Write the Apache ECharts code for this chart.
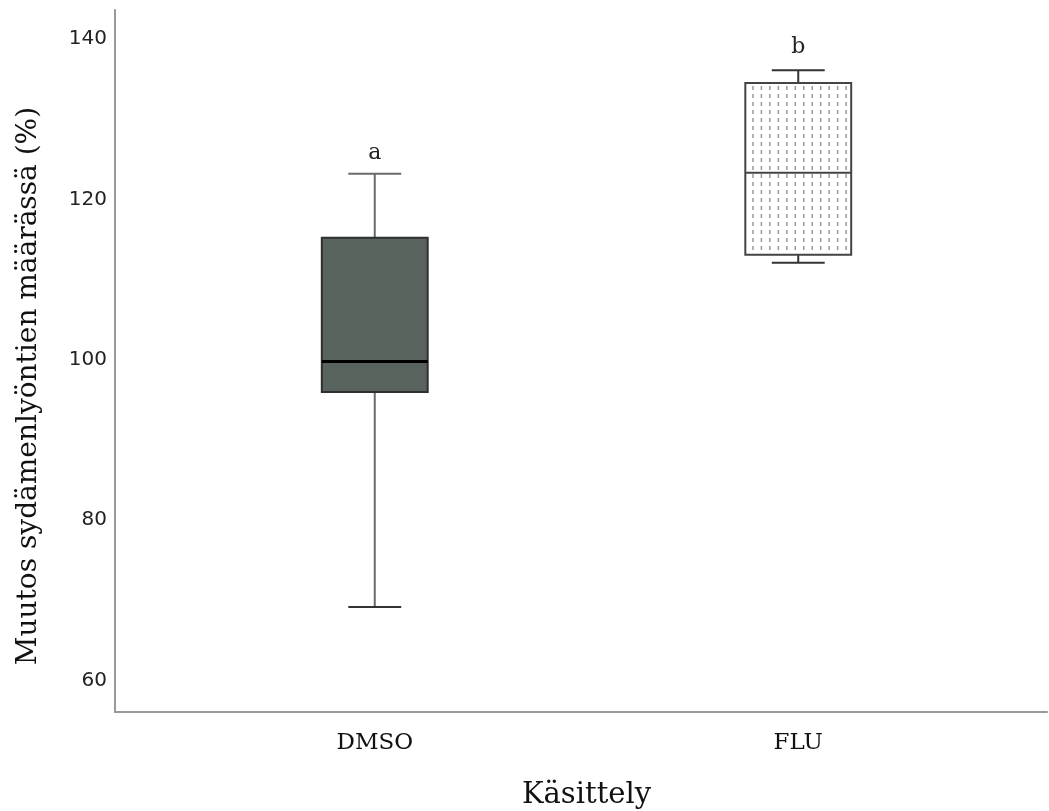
<!DOCTYPE html>
<html>
<head>
<meta charset="utf-8">
<script src="https://cdn.jsdelivr.net/npm/echarts@6/dist/echarts.min.js"></script>
<style>html,body{margin:0;padding:0;background:#fff;}#c{width:1049px;height:811px;}</style>
</head>
<body>
<div id="c"></div>
<script>
// ---- data ----
const categories = ['DMSO', 'FLU'];
const whiskerMin = [69.2, 112.1];
const q1Vals = [96.0, 113.1];
const medianVals = [99.8, 123.3];
const q3Vals = [115.2, 134.5];
const whiskerMax = [123.2, 136.1];
const letterVals = [125.8, 139.0];
const letterTexts = ['a', 'b'];
const yTitle = 'Muutos sydämenlyöntien määrässä (%)';
const xTitle = 'Käsittely';

// ---- styles (per category) ----
const boxStyles = [
  { fill: '#59635e', stroke: '#2f2f2f', boxLW: 2, median: '#000000', medianLW: 3, whisker: '#6a6a6a', dots: false },
  { fill: '#ffffff', stroke: '#444444', boxLW: 2, median: '#444444', medianLW: 2, whisker: '#333333', dots: true }
];

const chart = echarts.init(document.getElementById('c'), null, { renderer: 'canvas' });

function renderItem(params, api) {
  const i = api.value(0);
  const st = boxStyles[i];
  const bandW = api.size([1, 0])[0];
  const boxW = bandW * 0.25;
  const capW = boxW * 0.5;
  const xc = api.coord([i, api.value(3)])[0];
  const yMin = api.coord([i, api.value(1)])[1];
  const yQ1 = api.coord([i, api.value(2)])[1];
  const yMed = api.coord([i, api.value(3)])[1];
  const yQ3 = api.coord([i, api.value(4)])[1];
  const yMax = api.coord([i, api.value(5)])[1];
  const yLet = api.coord([i, api.value(6)])[1];
  const children = [];
  const wl = { stroke: st.whisker, lineWidth: 2 };
  children.push({ type: 'line', shape: { x1: xc, y1: yMax, x2: xc, y2: yQ3 }, style: wl });
  children.push({ type: 'line', shape: { x1: xc, y1: yQ1, x2: xc, y2: yMin }, style: wl });
  children.push({ type: 'line', shape: { x1: xc - capW / 2, y1: yMax, x2: xc + capW / 2, y2: yMax }, style: wl });
  children.push({ type: 'line', shape: { x1: xc - capW / 2, y1: yMin, x2: xc + capW / 2, y2: yMin }, style: { stroke: '#333', lineWidth: 2 } });
  children.push({ type: 'rect', shape: { x: xc - boxW / 2, y: yQ3, width: boxW, height: yQ1 - yQ3 }, style: { fill: st.fill, stroke: 'none' } });
  if (st.dots) {
    const step = boxW / 12.5;
    for (let x = xc - boxW / 2 + step * 0.9; x < xc + boxW / 2 - 2; x += step) {
      children.push({ type: 'line', shape: { x1: x, y1: yQ3 + 3, x2: x, y2: yQ1 - 1 }, style: { stroke: '#999999', lineWidth: 1.5, lineDash: [4, 4] } });
    }
  }
  children.push({ type: 'rect', shape: { x: xc - boxW / 2, y: yQ3, width: boxW, height: yQ1 - yQ3 }, style: { fill: 'none', stroke: st.stroke, lineWidth: st.boxLW } });
  children.push({ type: 'line', shape: { x1: xc - boxW / 2, y1: yMed, x2: xc + boxW / 2, y2: yMed }, style: { stroke: st.median, lineWidth: st.medianLW } });
  children.push({ type: 'text', x: xc, y: yLet, style: { text: letterTexts[i], fill: '#222', font: '22px "DejaVu Serif"', align: 'center', verticalAlign: 'middle' } });
  return { type: 'group', children: children };
}

const seriesData = categories.map((c, i) => [i, whiskerMin[i], q1Vals[i], medianVals[i], q3Vals[i], whiskerMax[i], letterVals[i]]);

const yMinAxis = 56.1, yMaxAxis = 143.6;

chart.setOption({
  backgroundColor: '#ffffff',
  animation: false,
  grid: [
    { left: 115, right: 2, top: 10, bottom: 99, containLabel: false, outerBoundsMode: 'none' },
    { left: 163, right: 39, top: 10, bottom: 99, containLabel: false, outerBoundsMode: 'none' }
  ],
  xAxis: [
    { gridIndex: 0, type: 'value', min: 0, max: 1,
      axisLine: { show: true, onZero: false, lineStyle: { color: '#999999', width: 2 } },
      axisTick: { show: false }, axisLabel: { show: false }, splitLine: { show: false } },
    { gridIndex: 1, type: 'category', data: categories,
      axisLine: { show: false }, axisTick: { show: false }, splitLine: { show: false },
      axisLabel: { margin: 20, color: '#111', fontFamily: 'DejaVu Serif', fontSize: 23 },
      name: xTitle, nameLocation: 'middle', nameGap: 69,
      nameTextStyle: { color: '#111', fontFamily: 'DejaVu Serif', fontSize: 29 } }
  ],
  yAxis: [
    { gridIndex: 0, type: 'value', min: yMinAxis, max: yMaxAxis,
      axisLine: { show: true, onZero: false, lineStyle: { color: '#999999', width: 2 } },
      axisTick: { show: false }, splitLine: { show: false },
      axisLabel: { margin: 8, color: '#222', fontFamily: 'DejaVu Sans', fontSize: 20,
        showMinLabel: false, showMaxLabel: false,
        formatter: v => (Math.abs(v % 20) < 1e-6 ? String(v) : '') },
      name: yTitle, nameLocation: 'middle', nameGap: 72, nameRotate: 90,
      nameTextStyle: { color: '#111', fontFamily: 'DejaVu Serif', fontSize: 28, padding: [0, 50, 0, 0] } },
    { gridIndex: 1, type: 'value', min: yMinAxis, max: yMaxAxis, show: false, splitLine: { show: false } }
  ],
  series: [{
    type: 'custom',
    xAxisIndex: 1, yAxisIndex: 1,
    renderItem: renderItem,
    encode: { x: 0, y: [1, 2, 3, 4, 5, 6] },
    data: seriesData,
    clip: false
  }]
});
</script>
</body>
</html>
